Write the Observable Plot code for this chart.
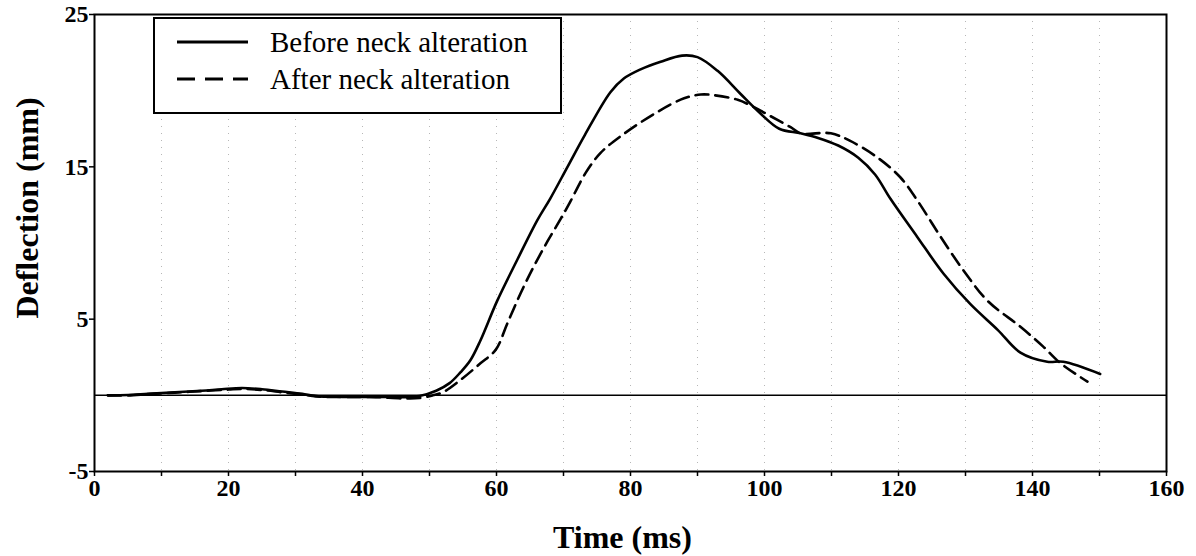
<!DOCTYPE html>
<html>
<head>
<meta charset="utf-8">
<script src="https://cdn.jsdelivr.net/npm/d3@7"></script>
<script src="https://cdn.jsdelivr.net/npm/@observablehq/plot@0.6"></script>
<style>
  html, body { margin: 0; padding: 0; background: #fff; }
  #wrap { position: relative; width: 1196px; height: 556px; }
  #wrap svg text { font-family: "Liberation Serif", "DejaVu Serif", serif; font-weight: bold; }
  #legend {
    position: absolute; left: 153px; top: 17px; width: 405px; height: 93px;
    background: #fff; border: 2px solid #000;
    font-family: "Liberation Serif", serif; font-size: 29px; color: #000;
  }
  .row { position: absolute; left: 0; height: 36px; display: flex; align-items: center; white-space: nowrap; }
  .row svg { margin-left: 22px; margin-right: 22px; }
</style>
</head>
<body>
<div id="wrap"></div>
<script>
// Deflection history before the neck alteration (solid line)
const timeBefore = [2, 5, 8, 12, 16, 19, 22, 25, 28, 31, 33, 37, 42, 46, 48.5, 51, 53, 54.6, 56.1, 57.6, 60.1, 63.1, 66.1, 68, 70.6, 73.2, 77, 79, 81.5, 84.5, 87.7, 90, 93, 96.4, 99.4, 102.2, 105.4, 108, 111, 114, 116.5, 118.8, 122.8, 126.7, 130.7, 134.8, 138.2, 142.2, 144.6, 150.1];
const deflBefore = [0, 0.02, 0.1, 0.2, 0.3, 0.4, 0.48, 0.4, 0.25, 0.1, -0.05, -0.1, -0.1, -0.12, -0.05, 0.3, 0.8, 1.5, 2.3, 3.6, 6.2, 8.9, 11.5, 12.9, 15.0, 17.1, 19.9, 20.8, 21.4, 21.9, 22.3, 22.2, 21.3, 19.8, 18.5, 17.5, 17.2, 16.9, 16.4, 15.6, 14.5, 12.9, 10.4, 8.0, 6.0, 4.3, 2.8, 2.2, 2.2, 1.4];

// Deflection history after the neck alteration (dashed line)
const timeAfter = [2, 5, 8, 12, 16, 20, 22, 25, 28, 31, 34, 38, 42, 46, 48.5, 50.5, 52, 54.6, 57.6, 59.9, 61.6, 63.6, 65.5, 67.6, 69.6, 71.0, 73.3, 75.5, 78.5, 84.0, 88, 90.5, 92.5, 96, 98.5, 100.6, 103.9, 105.4, 109.9, 112.8, 116.9, 120.3, 122.8, 126.3, 129.7, 133.3, 138.2, 141.6, 144.2, 148.2];
const deflAfter = [0, 0, 0.08, 0.18, 0.28, 0.38, 0.42, 0.35, 0.2, 0.05, -0.1, -0.1, -0.12, -0.2, -0.18, 0, 0.2, 1.0, 2.1, 3.0, 4.7, 6.7, 8.4, 10.1, 11.6, 12.7, 14.6, 15.9, 17.0, 18.6, 19.5, 19.75, 19.7, 19.4, 18.9, 18.4, 17.6, 17.2, 17.2, 16.7, 15.6, 14.3, 12.8, 10.4, 8.2, 6.2, 4.5, 3.2, 2.1, 0.9];

const xTicks = d3.range(0, 161, 10);
const yTicks = [-5, 5, 15, 25];
const gridTimes = d3.range(10, 160, 10);

const before = timeBefore.map((t, i) => ({t, d: deflBefore[i]}));
const after = timeAfter.map((t, i) => ({t, d: deflAfter[i]}));

const chart = Plot.plot({
  width: 1196,
  height: 556,
  marginLeft: 94,
  marginRight: 30,
  marginTop: 14,
  marginBottom: 85,
  style: {fontFamily: "Liberation Serif", fontSize: "24px", color: "#000", background: "#fff"},
  x: {domain: [0, 160]},
  y: {domain: [-5, 25]},
  marks: [
    Plot.ruleX(gridTimes, {stroke: "#999", strokeWidth: 1, strokeDasharray: "1,6", strokeOpacity: 0.7}),
    Plot.ruleY([0], {stroke: "#000", strokeWidth: 1.5}),
    Plot.line(before, {x: "t", y: "d", curve: "catmull-rom", stroke: "#000", strokeWidth: 2.6}),
    Plot.line(after, {x: "t", y: "d", curve: "catmull-rom", stroke: "#000", strokeWidth: 2.6, strokeDasharray: "13,7"}),
    Plot.frame({stroke: "#000", strokeWidth: 2}),
    Plot.axisX({ticks: xTicks, tickFormat: d => d % 20 === 0 ? String(d) : "", tickSize: 5, tickPadding: 2, label: null, fontSize: 24, strokeWidth: 1.5}),
    Plot.axisY({ticks: yTicks, tickFormat: d => String(d), tickSize: 5, tickPadding: 1, label: null, fontSize: 24, strokeWidth: 1.5}),
    Plot.text(["Time (ms)"], {frameAnchor: "bottom", dx: -8, dy: 66, fontSize: 32, fontWeight: "bold", textAnchor: "middle", lineAnchor: "middle"}),
    Plot.text(["Deflection (mm)"], {frameAnchor: "left", dx: -67, dy: -35, rotate: -90, fontSize: 32, fontWeight: "bold", textAnchor: "middle", lineAnchor: "middle"})
  ]
});

const wrap = document.getElementById("wrap");
wrap.appendChild(chart);

// Legend box drawn over the upper left of the plot area
const legendItems = [
  {label: "Before neck alteration", dash: null, top: 5},
  {label: "After neck alteration", dash: "18,10", top: 42}
];
const legend = document.createElement("div");
legend.id = "legend";
for (const item of legendItems) {
  const row = document.createElement("div");
  row.className = "row";
  row.style.top = item.top + "px";
  row.innerHTML = `<svg width="71" height="10"><line x1="0" x2="71" y1="5" y2="5" stroke="#000" stroke-width="3" ${item.dash ? `stroke-dasharray="${item.dash}"` : ""}/></svg><span>${item.label}</span>`;
  legend.appendChild(row);
}
wrap.appendChild(legend);
</script>
</body>
</html>
